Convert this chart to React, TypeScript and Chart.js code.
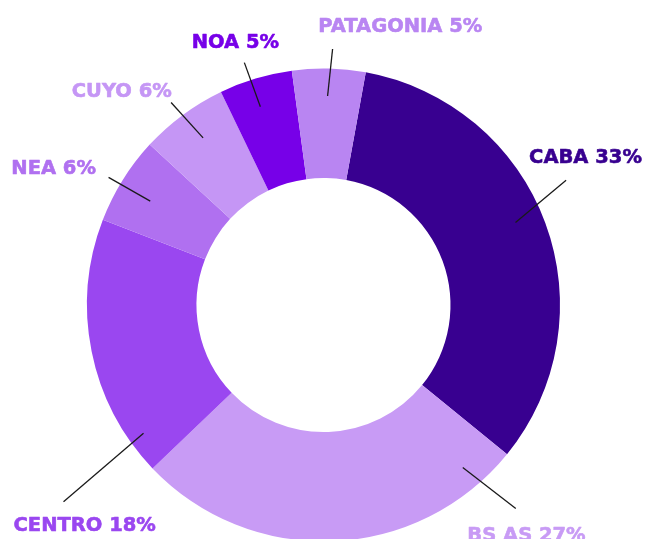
import React, { useEffect, useRef } from "react";
import { Chart, registerables } from "chart.js";

Chart.register(...registerables);

const regions = ["CABA", "BS AS", "CENTRO", "NEA", "CUYO", "NOA", "PATAGONIA"];
const shares = [33, 27, 18, 6, 6, 5, 5];
const colors = ["#380090", "#c89bf5", "#9a47f0", "#b070f0", "#c596f5", "#7700e8", "#b985f2"];

// Leader-line / label annotation layout (relative to each slice)
const labelLayout = [
  { frac: 0.475, r: 209, ex: 50.6, ey: -42.3, tx: -37, ty: -16.7, align: "left" },
  { frac: 0.106, r: 214, ex: 53, ey: 41, tx: -48.4, ty: 32.3, align: "left" },
  { frac: 0.127, r: 221, ex: -80, ey: 68.4, tx: -50, ty: 29.3, align: "left" },
  { frac: 0.456, r: 202, ex: -41.7, ey: -23.7, tx: -12.6, ty: -3.3, align: "right" },
  { frac: 0.534, r: 206, ex: -32, ey: -35.4, tx: 0.7, ty: -5.6, align: "right" },
  { frac: 0.446, r: 208, ex: -16, ey: -44.2, tx: -9, ty: -14.8, align: "center" },
  { frac: 0.49, r: 209, ex: 5, ey: -47, tx: -14.4, ty: -16.7, align: "left" },
];

const labelPlugin = {
  id: "outLabels",
  afterDatasetsDraw(chart: any) {
    const ctx = chart.ctx;
    const meta = chart.getDatasetMeta(0);
    ctx.save();
    meta.data.forEach((arc: any, i: number) => {
      const p = arc.getProps(["x", "y", "startAngle", "endAngle"], true);
      const L = labelLayout[i];
      const a = p.startAngle + L.frac * (p.endAngle - p.startAngle);
      const sx = p.x + L.r * Math.cos(a);
      const sy = p.y + L.r * Math.sin(a);
      const ex = sx + L.ex;
      const ey = sy + L.ey;
      ctx.beginPath();
      ctx.moveTo(sx, sy);
      ctx.lineTo(ex, ey);
      ctx.strokeStyle = "#1a1a1a";
      ctx.lineWidth = 1.3;
      ctx.stroke();
      ctx.font = "bold 19.5px 'DejaVu Sans'";
      ctx.fillStyle = colors[i];
      ctx.strokeStyle = colors[i];
      ctx.lineWidth = 0.6;
      ctx.lineJoin = "round";
      ctx.textAlign = L.align as CanvasTextAlign;
      ctx.textBaseline = "alphabetic";
      const text = `${regions[i]} ${shares[i]}%`;
      ctx.fillText(text, ex + L.tx, ey + L.ty);
      ctx.strokeText(text, ex + L.tx, ey + L.ty);
    });
    ctx.restore();
  },
};

export default function App() {
  const ref = useRef<HTMLCanvasElement>(null);
  useEffect(() => {
    const chart = new Chart(ref.current!, {
      type: "doughnut",
      data: {
        labels: regions,
        datasets: [
          {
            data: shares,
            backgroundColor: colors,
            borderWidth: 0,
            hoverOffset: 0,
          },
        ],
      },
      options: {
        responsive: false,
        animation: false,
        devicePixelRatio: 1,
        rotation: 10.3,
        cutout: 127,
        layout: { padding: { left: 87, right: 97, top: 68.5, bottom: 78.5 } },
        plugins: { legend: { display: false }, tooltip: { enabled: false } },
      },
      plugins: [labelPlugin],
    });
    return () => chart.destroy();
  }, []);
  return (
    <div style={{ position: "fixed", left: 0, top: 0, width: 657, height: 620 }}>
      <canvas ref={ref} width={657} height={620} style={{ width: 657, height: 620 }} />
    </div>
  );
}
